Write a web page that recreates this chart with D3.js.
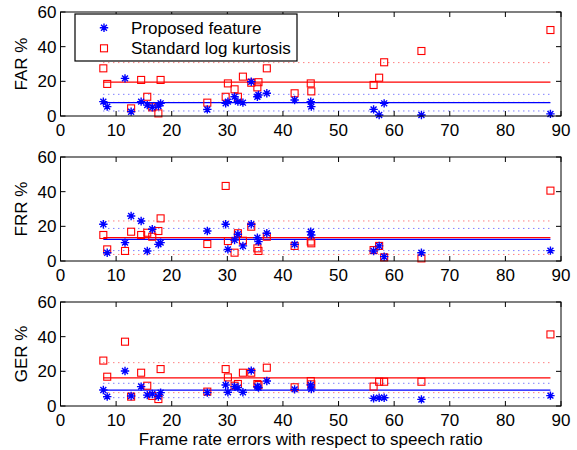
<!DOCTYPE html>
<html>
<head>
<meta charset="utf-8">
<script src="https://cdn.jsdelivr.net/npm/d3@7"></script>
<style>
  html, body { margin: 0; padding: 0; background: #fff; }
  svg { display: block; font-family: "Liberation Sans", Arial, Helvetica, sans-serif; }
</style>
</head>
<body>
<div id="chart"></div>
<script>
// frame rate errors (shared by all three panels)
const frameErrors = [7.7, 8.4, 11.6, 12.7, 14.5, 15.6, 16.5, 17.6, 18.0, 26.4, 29.7, 30.1, 31.3, 31.9,
  32.8, 34.3, 35.4, 35.6, 37.1, 42.1, 45.0, 45.1, 56.3, 57.3, 58.2, 64.9, 88.1];

const farProposed = [8.3, 5.4, 21.7, 2.5, 8.3, 6.3, 5.0, 5.8, 7.3, 3.8, 7.3, 8.3, 11.1, 8.3,
  7.7, 19.8, 11.1, 12.1, 13.1, 9.2, 8.3, 5.4, 3.8, 0.6, 7.3, 0.6, 1.2];
const farKurtosis = [27.5, 18.5, 45.0, 4.4, 20.8, 11.1, 5.0, 1.5, 20.8, 7.7, 11.1, 18.8, 15.4, 11.1,
  22.7, 19.2, 16.5, 19.5, 27.5, 13.1, 18.8, 14.2, 17.9, 22.1, 31.0, 37.5, 49.6];

const frrProposed = [21.2, 4.8, 10.6, 26.0, 23.1, 5.8, 18.3, 9.6, 10.6, 17.3, 21.2, 6.7, 12.1, 15.4,
  8.7, 21.2, 13.5, 11.2, 16.0, 9.6, 16.9, 15.0, 5.8, 8.7, 2.5, 4.8, 6.0];
const frrKurtosis = [15.0, 6.7, 5.8, 16.9, 15.0, 16.3, 14.0, 17.3, 24.6, 9.8, 43.3, 11.5, 4.8, 16.0,
  11.7, 19.8, 7.3, 5.8, 14.0, 8.7, 11.2, 10.2, 6.3, 8.7, 2.1, 1.5, 40.6];

const gerProposed = [9.2, 5.4, 20.2, 5.8, 11.2, 6.3, 6.9, 5.4, 7.7, 7.7, 12.1, 7.9, 11.2, 10.6,
  7.9, 20.4, 11.2, 10.6, 14.4, 9.6, 12.1, 9.8, 4.4, 4.8, 4.8, 3.8, 6.0];
const gerKurtosis = [26.2, 16.9, 37.1, 5.4, 19.2, 11.7, 5.8, 4.0, 21.3, 8.3, 21.3, 16.5, 11.7, 12.7,
  19.2, 19.2, 12.7, 12.1, 22.1, 10.8, 14.4, 12.5, 11.2, 14.0, 14.0, 14.0, 41.3];

// mean line and mean +/- std lines: [low, mean, high]
const farProposedBand = [2.9, 7.7, 12.5];
const farKurtosisBand = [7.9, 19.6, 30.8];
const frrProposedBand = [6.0, 12.5, 18.8];
const frrKurtosisBand = [3.8, 13.5, 23.1];
const gerProposedBand = [4.8, 9.2, 13.1];
const gerKurtosisBand = [7.7, 16.2, 25.0];

const panelLabels = ["FAR %", "FRR %", "GER %"];
const xTicks = [0, 10, 20, 30, 40, 50, 60, 70, 80, 90];
const yTicks = [0, 20, 40, 60];
const legendLabels = ["Proposed feature", "Standard log kurtosis"];
const xLabel = "Frame rate errors with respect to speech ratio";

const panels = [
  { label: panelLabels[0], blue: farProposed, red: farKurtosis, blueBand: farProposedBand, redBand: farKurtosisBand },
  { label: panelLabels[1], blue: frrProposed, red: frrKurtosis, blueBand: frrProposedBand, redBand: frrKurtosisBand },
  { label: panelLabels[2], blue: gerProposed, red: gerKurtosis, blueBand: gerProposedBand, redBand: gerKurtosisBand }
];

const W = 577, H = 450;
const left = 60.5, right = 561;
const panelTops = [12, 157, 302];
const panelH = 104;
const fontSize = 17;
const BLUE = "#0000ff", RED = "#ff0000";

const svg = d3.select("#chart").append("svg")
  .attr("width", W)
  .attr("height", H);

const x = d3.scaleLinear().domain([0, 90]).range([left, right]);
const xMin = d3.min(frameErrors), xMax = d3.max(frameErrors);

function starPath(r) {
  const d = r * Math.SQRT1_2;
  return `M${-r},0L${r},0M0,${-r}L0,${r}M${-d},${-d}L${d},${d}M${-d},${d}L${d},${-d}`;
}

panels.forEach((p, i) => {
  const top = panelTops[i];
  const y = d3.scaleLinear().domain([0, 60]).range([top + panelH, top]);
  const g = svg.append("g");

  // mean and std lines
  const bands = [{ band: p.redBand, color: RED }, { band: p.blueBand, color: BLUE }];
  bands.forEach(({ band, color }) => {
    band.forEach((v, k) => {
      g.append("line")
        .attr("x1", x(xMin)).attr("x2", x(xMax))
        .attr("y1", y(v)).attr("y2", y(v))
        .attr("stroke", color)
        .attr("stroke-width", k === 1 ? 1.3 : 1)
        .attr("stroke-opacity", k === 1 ? 1 : 0.75)
        .attr("stroke-dasharray", k === 1 ? null : "1,4");
    });
  });

  // markers
  g.append("g").selectAll("rect")
    .data(p.red)
    .join("rect")
    .attr("x", (d, j) => x(frameErrors[j]) - 3.5)
    .attr("y", (d) => y(d) - 3.5)
    .attr("width", 7).attr("height", 7)
    .attr("fill", "none")
    .attr("stroke", RED)
    .attr("stroke-width", 1.1);

  g.append("g").selectAll("path")
    .data(p.blue)
    .join("path")
    .attr("transform", (d, j) => `translate(${x(frameErrors[j])},${y(d)})`)
    .attr("d", starPath(4.2))
    .attr("fill", "none")
    .attr("stroke", BLUE)
    .attr("stroke-width", 1.4);

  // axes box with inward ticks on all sides
  const tickLen = 5;
  const axisG = g.append("g").attr("stroke", "#000").attr("stroke-width", 1);
  axisG.append("rect")
    .attr("x", left).attr("y", top)
    .attr("width", right - left).attr("height", panelH)
    .attr("fill", "none");
  xTicks.forEach((t) => {
    axisG.append("line").attr("x1", x(t)).attr("x2", x(t))
      .attr("y1", top + panelH).attr("y2", top + panelH - tickLen);
    axisG.append("line").attr("x1", x(t)).attr("x2", x(t))
      .attr("y1", top).attr("y2", top + tickLen);
  });
  yTicks.forEach((t) => {
    axisG.append("line").attr("x1", left).attr("x2", left + tickLen)
      .attr("y1", y(t)).attr("y2", y(t));
    axisG.append("line").attr("x1", right).attr("x2", right - tickLen)
      .attr("y1", y(t)).attr("y2", y(t));
  });

  // tick labels
  g.append("g").selectAll("text")
    .data(xTicks)
    .join("text")
    .attr("x", (d) => x(d))
    .attr("y", top + panelH + 20)
    .attr("text-anchor", "middle")
    .attr("font-size", fontSize)
    .text((d) => d);

  g.append("g").selectAll("text")
    .data(yTicks)
    .join("text")
    .attr("x", left - 4)
    .attr("y", (d) => y(d))
    .attr("dy", "0.35em")
    .attr("text-anchor", "end")
    .attr("font-size", fontSize)
    .text((d) => d);

  const cy = top + panelH / 2;
  g.append("text")
    .attr("transform", `translate(27,${cy}) rotate(-90)`)
    .attr("text-anchor", "middle")
    .attr("font-size", fontSize)
    .text(p.label);
});

// legend in the top panel
const legend = svg.append("g");
legend.append("rect")
  .attr("x", 75).attr("y", 14)
  .attr("width", 222).attr("height", 47)
  .attr("fill", "#fff")
  .attr("stroke", "#000")
  .attr("stroke-width", 1.2);
const rowY = [27.7, 48.3];
legend.append("path")
  .attr("transform", `translate(104,${rowY[0]})`)
  .attr("d", starPath(4.2))
  .attr("stroke", BLUE).attr("stroke-width", 1.4).attr("fill", "none");
legend.append("rect")
  .attr("x", 100.5).attr("y", rowY[1] - 3.5)
  .attr("width", 7).attr("height", 7)
  .attr("stroke", RED).attr("stroke-width", 1.1).attr("fill", "none");
legendLabels.forEach((t, k) => {
  legend.append("text")
    .attr("x", 131).attr("y", rowY[k])
    .attr("dy", "0.35em")
    .attr("font-size", fontSize)
    .text(t);
});

svg.append("text")
  .attr("x", (left + right) / 2)
  .attr("y", 445)
  .attr("text-anchor", "middle")
  .attr("font-size", fontSize)
  .text(xLabel);
</script>
</body>
</html>
